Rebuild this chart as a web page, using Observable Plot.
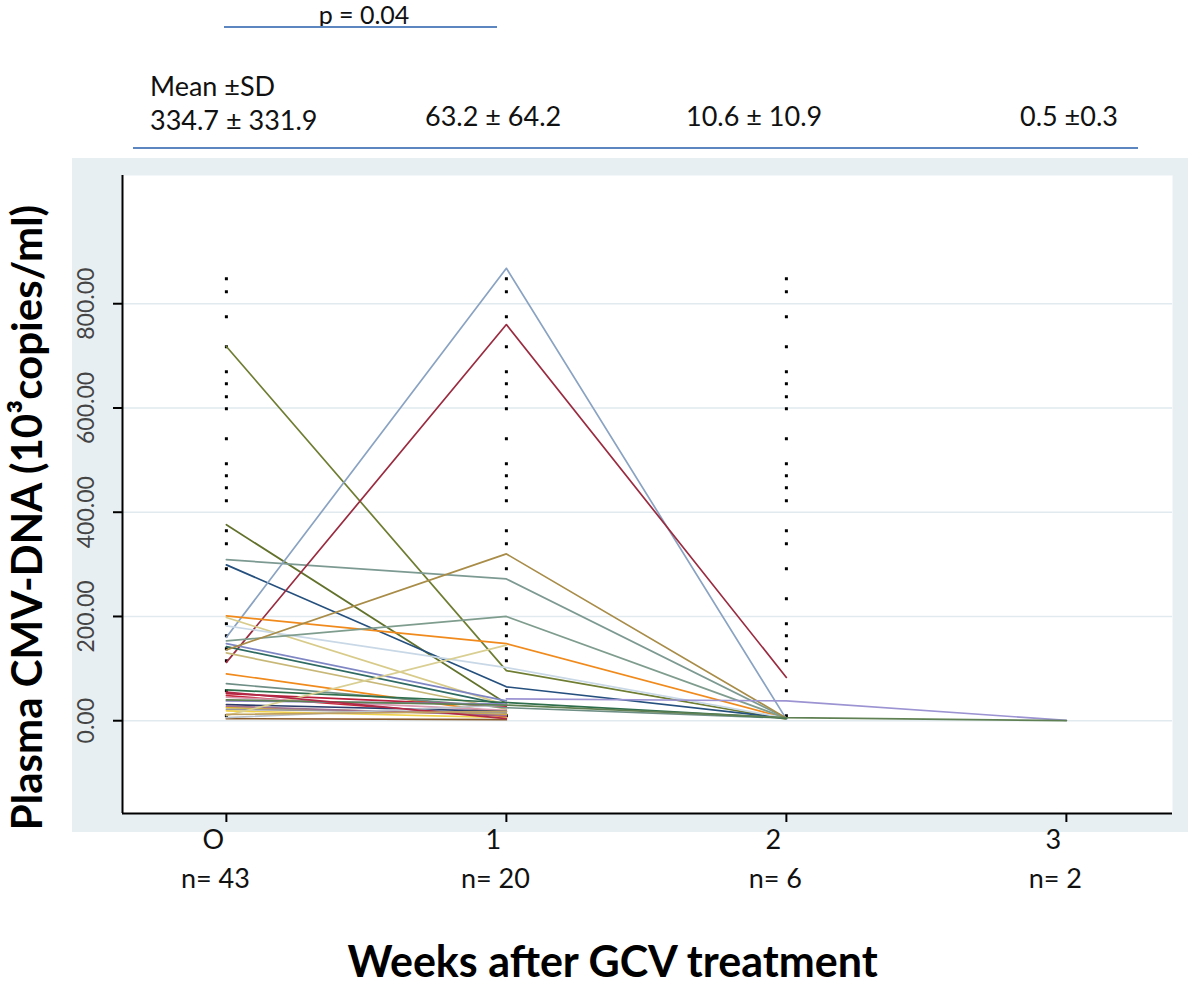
<!DOCTYPE html>
<html>
<head>
<meta charset="utf-8">
<script src="https://cdn.jsdelivr.net/npm/d3@7"></script>
<script src="https://cdn.jsdelivr.net/npm/@observablehq/plot@0.6"></script>
<style>
  html, body { margin: 0; padding: 0; background: #fff; }
  #wrap { position: relative; width: 1200px; height: 984px; overflow: hidden; font-family: Lato, "Open Sans", sans-serif; }
  #panel { position: absolute; left: 72px; top: 158px; width: 1116px; height: 674px; background: #e8eff2; }
  #chart { position: absolute; left: 0; top: 0; }
  #notes { position: absolute; left: 0; top: 0; }
  #chart svg [aria-label^="x-axis tick"] path, #chart svg [aria-label^="y-axis tick"] path { stroke-width: 2; }
</style>
</head>
<body>
<div id="wrap">
  <div id="panel"></div>
  <div id="chart"></div>
  <svg id="notes" width="1200" height="175" font-family="Lato, 'Open Sans', sans-serif" font-size="27" fill="#111">
    <text x="364" y="24" text-anchor="middle" font-size="25">p = 0.04</text>
    <line x1="224" x2="497" y1="27" y2="27" stroke="#5b86bf" stroke-width="2"/>
    <text x="150" y="96">Mean ±SD</text>
    <text x="150" y="130">334.7 ± 331.9</text>
    <text x="425" y="126">63.2 ± 64.2</text>
    <text x="686" y="126">10.6 ± 10.9</text>
    <text x="1020" y="126">0.5 ±0.3</text>
    <line x1="133" x2="1138" y1="148" y2="148" stroke="#5b86bf" stroke-width="2"/>
  </svg>
</div>
<script>
// ---- data ----
const weeks = [0, 1, 2, 3];
const xTickLabels = ["O", "1", "2", "3"];
const nLabels = ["n= 43", "n= 20", "n= 6", "n= 2"];
const yTicks = [0, 200, 400, 600, 800];
const dottedWeeks = [0, 1, 2];
const dottedTop = 850;

// plasma CMV-DNA (10^3 copies/ml) per patient, one entry per patient in each array
const week0 = [718, 376, 309, 299, 160, 112, 201, 198, 182, 153, 148, 142, 136, 130, 90, 71, 59, 52, 48, 45, 38, 31, 25, 19, 22, 28, 10, 4, 6, null, 40, 55, 12];
const week1 = [96, 33, 272, 65, 868, 760, 148, 30, 102, 200, 38, 30, 320, 22, 14, 25, 35, 28, 8, 20, 32, 18, 12, 6, 15, 10, 145, 2, 30, 42, 30, 4, 18];
const week2 = [3, null, 5, 5, 3, 83, 5, null, 5, 5, null, null, 5, null, null, 5, 5, null, null, null, null, null, null, null, null, null, null, null, null, 38, 6, null, null];
const week3 = [null, null, null, null, null, null, null, null, null, null, null, null, null, null, null, null, null, null, null, null, null, null, null, null, null, null, null, null, null, 0.7, 0.3, null, null];
const lineColors = ["#6e7d32", "#62722c", "#7d9a92", "#25507e", "#8aa3c2", "#9a2b40", "#f08a1c", "#d8cb8a", "#c9d8e6", "#7f9d8e", "#7f86c4", "#2f6b62", "#a88c48", "#c8b878", "#f08a1c", "#6f8f86", "#2f6e4c", "#b8203c", "#c8283a", "#d99ab2", "#8c84c8", "#2c3d6c", "#e8c21e", "#f0d24a", "#9a9a9a", "#a07090", "#d9cf92", "#8b5a2b", "#b9c2cc", "#9b93d2", "#5f8052", "#b02a48", "#c0a060"];

const xDomain = [-0.371, 3.379];
const yDomain = [-178, 1046];

// ---- build ----
const series = [week0, week1, week2, week3];
const points = [];
lineColors.forEach((c, i) => {
  series.forEach((arr, w) => {
    if (arr[i] != null) points.push({patient: i, week: weeks[w], value: arr[i], color: c});
  });
});

const chart = Plot.plot({
  width: 1200,
  height: 984,
  marginLeft: 122,
  marginRight: 28,
  marginTop: 175,
  marginBottom: 171,
  style: {background: "transparent", color: "#000", fontFamily: "Lato, 'Open Sans', sans-serif", overflow: "visible"},
  color: {type: "identity"},
  x: {domain: xDomain, ticks: weeks, tickSize: 9, tickFormat: () => "", label: null},
  y: {domain: yDomain, ticks: yTicks, tickSize: 9, tickFormat: () => "", label: null},
  marks: [
    Plot.frame({fill: "white", stroke: "none"}),
    Plot.ruleY(yTicks, {stroke: "#e1eaee", strokeWidth: 1.5}),
    Plot.ruleX(dottedWeeks, {y1: dottedTop, y2: 0, stroke: "#000", strokeWidth: 3,
      strokeDasharray: "3,10,3,22,3,27,3,22,3,9,3,10,3,9,3,27,3,22,3,9,3,9,3,10,3,27"}),
    Plot.line(points, {x: "week", y: "value", z: "patient", stroke: "color", strokeWidth: 1.7}),
    Plot.ruleX([xDomain[0]], {y1: yDomain[0], y2: yDomain[1], stroke: "#000", strokeWidth: 2}),
    Plot.ruleY([yDomain[0]], {x1: xDomain[0], x2: xDomain[1], stroke: "#000", strokeWidth: 2}),
    Plot.text(yTicks, {y: d => d, frameAnchor: "left", dx: -36, rotate: -90, textAnchor: "middle",
      text: d => d3.format(".2f")(d), fontSize: 23, fill: "#444"}),
    Plot.text(weeks, {x: d => d, frameAnchor: "bottom", dx: -13, dy: 35, text: (d, i) => xTickLabels[i], fontSize: 27, fill: "#111"}),
    Plot.text(weeks, {x: d => d, frameAnchor: "bottom", dx: -11, dy: 74, text: (d, i) => nLabels[i], fontSize: 27, fill: "#111"}),
    Plot.text(["Weeks after GCV treatment"], {frameAnchor: "bottom", dx: -35, dy: 163, fontSize: 43, fontWeight: "bold", fill: "#000"}),
    Plot.text(["Plasma CMV-DNA (10³copies/ml)"], {frameAnchor: "left", textAnchor: "middle", dx: -94, dy: 23, rotate: -90, fontSize: 42, fontWeight: "bold", fill: "#000"})
  ]
});
document.getElementById("chart").appendChild(chart);
</script>
</body>
</html>
